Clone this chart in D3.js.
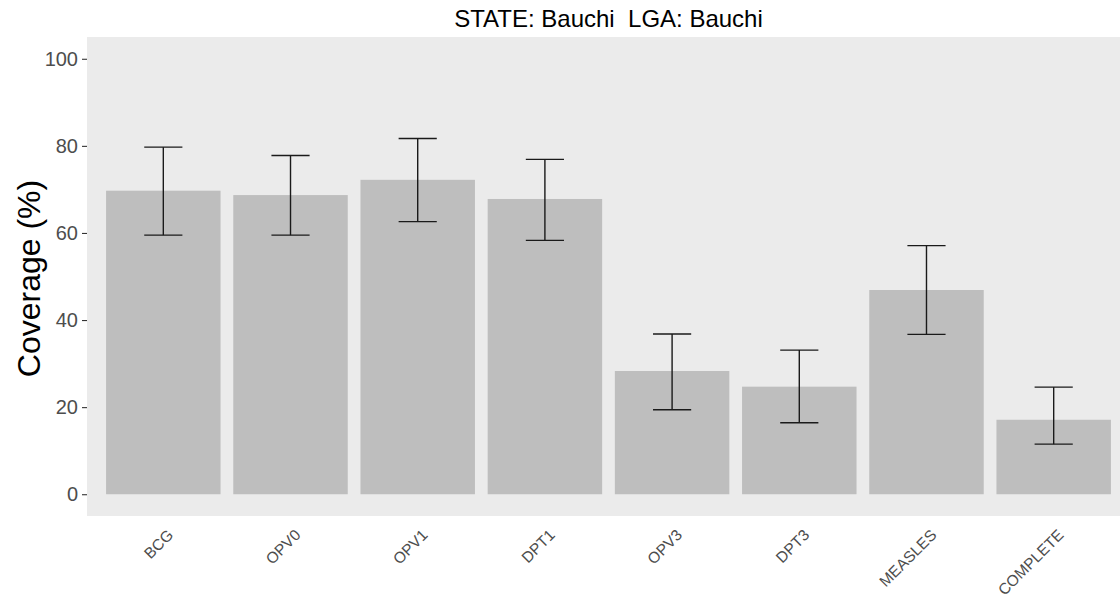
<!DOCTYPE html>
<html>
<head>
<meta charset="utf-8">
<script src="https://cdn.jsdelivr.net/npm/d3@7"></script>
<style>
  html, body { margin: 0; padding: 0; background: #fff; }
  svg { display: block; font-family: "Liberation Sans", Arial, sans-serif; }
</style>
</head>
<body>
<svg id="chart" width="1120" height="599"></svg>
<script>
const categories = ["BCG", "OPV0", "OPV1", "DPT1", "OPV3", "DPT3", "MEASLES", "COMPLETE"];
const coverage   = [69.7, 68.7, 72.2, 67.8, 28.3, 24.7, 46.9, 17.1];
const lowerCI    = [59.5, 59.5, 62.6, 58.3, 19.4, 16.4, 36.7, 11.5];
const upperCI    = [79.7, 77.8, 81.7, 76.9, 36.8, 33.1, 57.1, 24.6];
const yTicks     = [0, 20, 40, 60, 80, 100];
const titleText  = "STATE: Bauchi  LGA: Bauchi";
const yTitle     = "Coverage (%)";

const data = categories.map((c, i) => ({cat: c, v: coverage[i], lo: lowerCI[i], hi: upperCI[i]}));

const svg = d3.select("#chart");
const panel = {left: 87, right: 1130, top: 37, bottom: 516};

const x = d3.scaleBand()
  .domain(categories)
  .range([panel.left, panel.right])
  .paddingInner(0.1)
  .paddingOuter(0.15);

const y = d3.scaleLinear()
  .domain([-5, 105])
  .range([panel.bottom, panel.top]);

// panel background
svg.append("rect")
  .attr("x", panel.left).attr("y", panel.top)
  .attr("width", panel.right - panel.left)
  .attr("height", panel.bottom - panel.top)
  .attr("fill", "#EBEBEB");

// bars
svg.append("g").selectAll("rect")
  .data(data).join("rect")
  .attr("x", d => x(d.cat))
  .attr("y", d => y(d.v))
  .attr("width", x.bandwidth())
  .attr("height", d => y(0) - y(d.v))
  .attr("fill", "#BEBEBE");

// error bars
const capW = x.step() * 0.3;
const eb = svg.append("g").attr("stroke", "#1a1a1a").attr("stroke-width", 1.4).attr("fill", "none");
data.forEach(d => {
  const cx = x(d.cat) + x.bandwidth() / 2;
  eb.append("line").attr("x1", cx).attr("x2", cx).attr("y1", y(d.lo)).attr("y2", y(d.hi));
  eb.append("line").attr("x1", cx - capW / 2).attr("x2", cx + capW / 2).attr("y1", y(d.hi)).attr("y2", y(d.hi));
  eb.append("line").attr("x1", cx - capW / 2).attr("x2", cx + capW / 2).attr("y1", y(d.lo)).attr("y2", y(d.lo));
});

// y axis
const yAxis = d3.axisLeft(y).tickValues(yTicks).tickSize(5).tickPadding(4);
const gy = svg.append("g").attr("transform", `translate(${panel.left},0)`).call(yAxis);
gy.select(".domain").remove();
gy.selectAll(".tick line").attr("stroke", "#333333").attr("stroke-width", 1.1);
gy.selectAll(".tick text")
  .attr("fill", "#4D4D4D")
  .style("font-size", "20px")
  .style("font-family", "'Liberation Sans', Arial, sans-serif");

// x axis labels (no ticks visible)
const xAxis = d3.axisBottom(x).tickSize(0).tickFormat(d => d);
const gx = svg.append("g").attr("transform", `translate(0,${panel.bottom})`).call(xAxis);
gx.select(".domain").remove();
gx.selectAll(".tick line").remove();
gx.selectAll(".tick text")
  .attr("fill", "#4D4D4D")
  .attr("text-anchor", "end")
  .attr("x", null).attr("y", null).attr("dy", null)
  .attr("transform", "translate(11,20) rotate(-45)")
  .style("font-size", "15.5px")
  .style("font-family", "'Liberation Sans', Arial, sans-serif");

// title
svg.append("text")
  .attr("x", (panel.left + panel.right) / 2)
  .attr("y", 27)
  .attr("text-anchor", "middle")
  .attr("fill", "#000")
  .style("font-size", "24px")
  .style("white-space", "pre")
  .attr("xml:space", "preserve")
  .text(titleText);

// y title
svg.append("text")
  .attr("transform", `translate(40,${(panel.top + panel.bottom) / 2 + 2}) rotate(-90)`)
  .attr("text-anchor", "middle")
  .attr("fill", "#000")
  .style("font-size", "32px")
  .text(yTitle);
</script>
</body>
</html>
